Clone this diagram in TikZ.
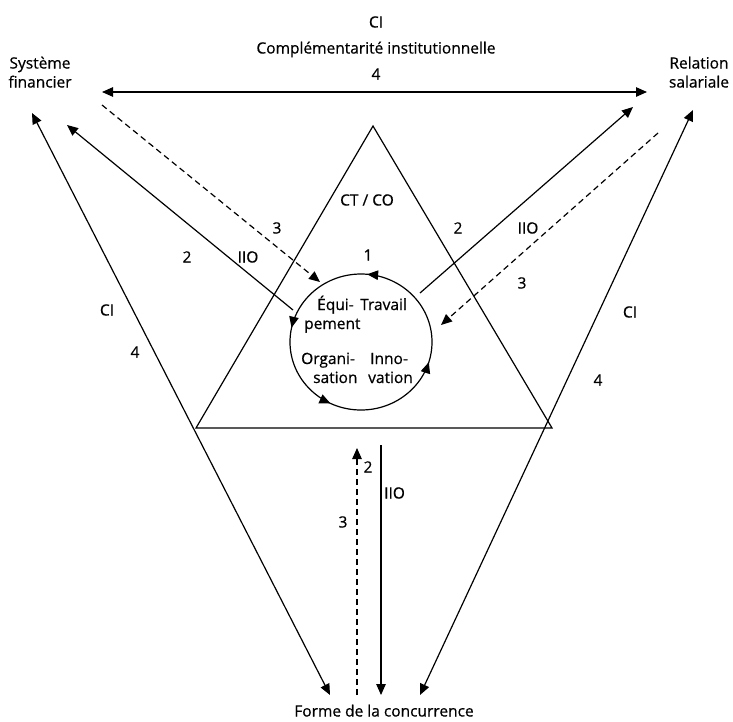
\documentclass[tikz,border=0pt]{standalone}
\usepackage{fontspec}
\setmainfont{Open Sans}
\newfontfamily\lblfont{Open Sans}[FakeBold=0.6]
\usetikzlibrary{arrows.meta,decorations.markings}
\begin{document}
\begin{tikzpicture}[x=1pt,y=1pt,
  lbl/.style={font=\lblfont\fontsize{15.5}{19}\selectfont, inner sep=0pt, text height=11pt, text depth=0pt},
  conn/.style={line width=1.2pt},
  tipend/.style={-{Triangle[length=11pt,width=9.5pt]}},
  tipboth/.style={{Triangle[length=11pt,width=9.5pt]}-{Triangle[length=11pt,width=9.5pt]}},
  dashline/.style={dash pattern=on 6pt off 4pt}
]
\useasboundingbox (0,0) rectangle (733,-721);

% titles and pole labels
\node[lbl] (ci) at (376,-22) {CI};
\node[lbl] (compl) at (376,-48) {Complémentarité institutionnelle};
\node[lbl] (four) at (376,-74) {4};
\node[lbl, align=center] (sf) at (40,-82) {Système\\financier};
\node[lbl, align=center] (rs) at (699,-82) {Relation\\salariale};
\node[lbl] (fc) at (384,-711) {Forme de la concurrence};

% connector end points
\coordinate (hL) at (102,-92);
\coordinate (hR) at (647,-92);
\coordinate (lt) at (32,-113);
\coordinate (lb) at (330,-695);
\coordinate (rt) at (693,-110);
\coordinate (rb) at (420,-695);
\coordinate (l2a) at (293,-310);
\coordinate (l2b) at (67,-125);
\coordinate (l3a) at (102,-105);
\coordinate (l3b) at (320,-282);
\coordinate (r2a) at (420,-293);
\coordinate (r2b) at (633,-107);
\coordinate (r3a) at (658,-133);
\coordinate (r3b) at (441,-325);
\coordinate (b3a) at (357,-695);
\coordinate (b3b) at (357,-448);
\coordinate (b2a) at (381,-445);
\coordinate (b2b) at (381,-695);

% triangle
\coordinate (tA) at (373,-126);
\coordinate (tL) at (196,-428);
\coordinate (tR) at (552,-428);
\draw[conn] (tA) -- (tL) -- (tR) -- cycle;

% circle with arrowheads (counterclockwise)
\coordinate (cc) at (361,-342);
\draw[conn, postaction={decorate}, decoration={markings,
    mark=at position 0.236 with {\arrow{Triangle[length=11pt,width=9.5pt]}},
    mark=at position 0.467 with {\arrow{Triangle[length=11pt,width=9.5pt]}},
    mark=at position 0.678 with {\arrow{Triangle[length=11pt,width=9.5pt]}},
    mark=at position 0.953 with {\arrow{Triangle[length=11pt,width=9.5pt]}}}]
  (cc) ++(0:71) arc[start angle=0, end angle=360, x radius=71, y radius=68];

% connectors
\draw[conn,tipboth] (hL) -- (hR);
\draw[conn,tipboth] (lb) -- (lt);
\draw[conn,tipboth] (rb) -- (rt);
\draw[conn,tipend] (l2a) -- (l2b);
\draw[conn,tipend,dashline] (l3a) -- (l3b);
\draw[conn,tipend] (r2a) -- (r2b);
\draw[conn,tipend,dashline] (r3a) -- (r3b);
\draw[conn,tipend,dashline] (b3a) -- (b3b);
\draw[conn,tipend] (b2a) -- (b2b);

% labels
\node[lbl] (ctco) at (367,-200) {CT / CO};
\node[lbl] (one) at (368,-255) {1};
\node[lbl] (l3) at (277,-228) {3};
\node[lbl] (l2) at (187,-257) {2};
\node[lbl] (liio) at (248,-257) {IIO};
\node[lbl] (lci) at (107,-310) {CI};
\node[lbl] (l4) at (135,-352) {4};
\node[lbl] (r2) at (458,-228) {2};
\node[lbl] (riio) at (528,-228) {IIO};
\node[lbl] (r3) at (522,-283) {3};
\node[lbl] (rci) at (630,-312) {CI};
\node[lbl] (r4) at (598,-380) {4};
\node[lbl] (b2) at (368,-467) {2};
\node[lbl, anchor=west] (biio) at (384,-493) {IIO};
\node[lbl] (b3) at (343,-522) {3};

% circle texts
\node[lbl, anchor=west] (equi) at (317,-304.5) {Équi-};
\node[lbl, anchor=west] (trav) at (360,-304.5) {Travail};
\node[lbl, anchor=west] (pem) at (304,-323.5) {pement};
\node[lbl, anchor=west] (orga) at (301,-358.5) {Organi-};
\node[lbl, anchor=west] (inno) at (370,-358.5) {Inno-};
\node[lbl, anchor=west] (sat) at (313,-377.5) {sation};
\node[lbl, anchor=west] (vat) at (368,-377.5) {vation};
\end{tikzpicture}
\end{document}
